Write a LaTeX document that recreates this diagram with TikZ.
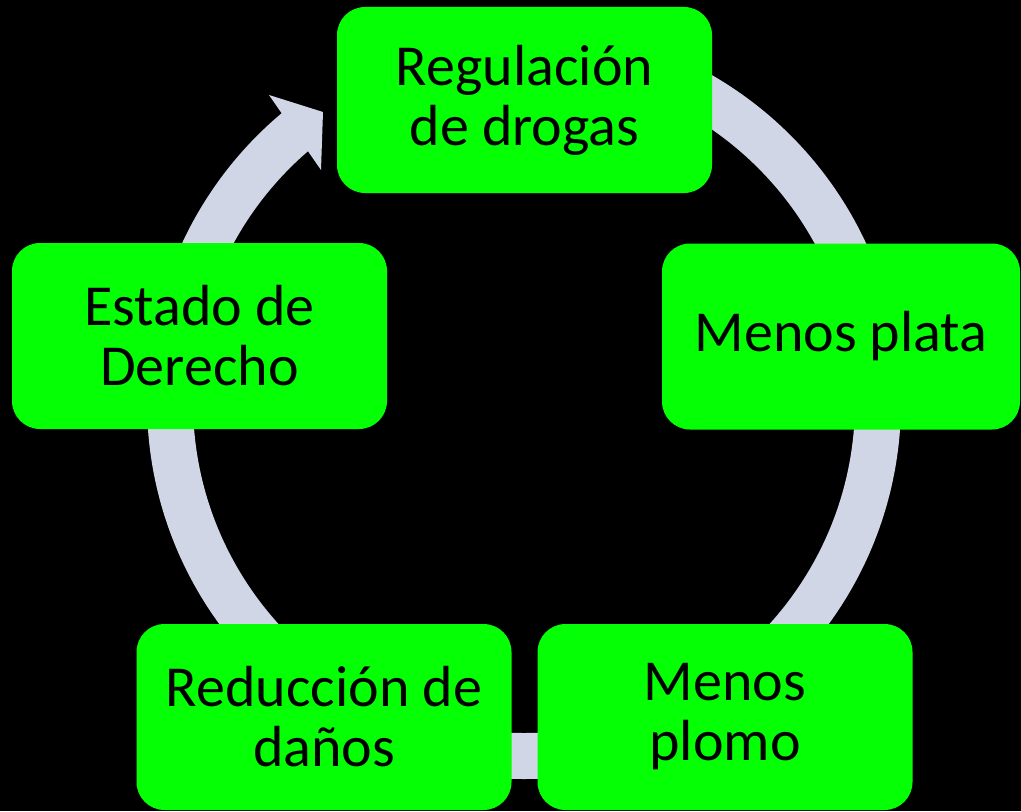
\documentclass[tikz,border=0pt]{standalone}
\usepackage{fontspec}
\setmainfont{Carlito}
\usetikzlibrary{positioning,calc}
\definecolor{boxgreen}{RGB}{5,255,5}
\definecolor{ringgrey}{RGB}{208,214,229}

\begin{document}
\begin{tikzpicture}[x=0.5pt, y=0.5pt,
    cyc/.style={draw=none, fill=boxgreen, rounded corners=14pt,
              minimum width=187.5pt, minimum height=93pt, inner sep=2pt, align=center,
              font=\fontsize{29}{30}\selectfont, text=black},
    ring/.style={draw=ringgrey, line width=23pt}]
\useasboundingbox (0,0) rectangle (1021,811);
\fill[black] (0,0) rectangle (1021,811);
\coordinate (ctr) at (524,409);
% ring with its arrow head
\draw[ring] (ctr) ++(90:354) arc[start angle=90, end angle=-231, radius=354];
\coordinate (tip) at (323,699);
\coordinate (barbo) at (269,716);
\coordinate (barbi) at (321,641);
\fill[ringgrey] (tip) -- (barbo) -- (barbi) -- cycle;
% boxes
\node[cyc] (reg) at (524.5,711) {Regulación\\de drogas};
\node[cyc, minimum width=179pt] (plata) at (841,474.5) {Menos plata};
\node[cyc] (plomo) at (725,94) {Menos\\plomo};
\node[cyc] (danos) at (324,94) {Reducción de\\daños};
\node[cyc] (estado) at (199.5,475) {Estado de\\Derecho};
\end{tikzpicture}
\end{document}
